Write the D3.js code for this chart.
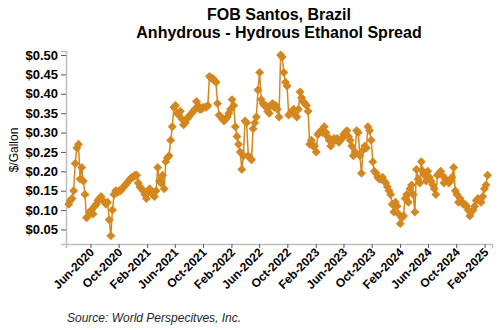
<!DOCTYPE html>
<html><head><meta charset="utf-8">
<script src="https://cdn.jsdelivr.net/npm/d3@7"></script>
<style>body{margin:0;background:#fff}</style>
</head><body><svg id="c" width="500" height="330"></svg>
<script>
// Weekly observations starting from this date
const startDate = "2020-02-28";
const spread = [
0.115,0.125,0.13,0.15,0.22,0.26,0.27,0.18,0.21,0.175,
0.14,0.08,0.085,0.095,0.10,0.09,0.11,0.115,0.125,0.13,
0.135,0.125,0.12,0.115,0.12,0.075,0.034,0.10,0.14,0.15,
0.145,0.15,0.15,0.155,0.16,0.165,0.17,0.175,0.18,0.185,
0.185,0.19,0.19,0.17,0.16,0.155,0.15,0.14,0.13,0.145,
0.155,0.145,0.14,0.135,0.15,0.21,0.175,0.17,0.19,0.155,
0.225,0.235,0.24,0.28,0.315,0.365,0.37,0.35,0.345,0.355,
0.335,0.32,0.325,0.335,0.34,0.345,0.35,0.355,0.36,0.38,
0.37,0.36,0.36,0.365,0.365,0.365,0.37,0.445,0.44,0.44,
0.435,0.43,0.375,0.345,0.34,0.335,0.33,0.335,0.34,0.35,
0.36,0.385,0.37,0.315,0.29,0.27,0.25,0.205,0.24,0.33,
0.325,0.24,0.235,0.23,0.31,0.325,0.34,0.41,0.455,0.385,
0.375,0.37,0.37,0.355,0.35,0.37,0.375,0.365,0.37,0.36,
0.34,0.50,0.495,0.455,0.43,0.42,0.345,0.35,0.355,0.36,
0.345,0.34,0.36,0.405,0.39,0.38,0.375,0.37,0.355,0.27,
0.28,0.265,0.265,0.25,0.295,0.30,0.305,0.30,0.315,0.30,
0.29,0.28,0.265,0.275,0.285,0.28,0.285,0.275,0.28,0.285,
0.295,0.30,0.305,0.29,0.28,0.265,0.24,0.25,0.305,0.30,
0.24,0.195,0.255,0.265,0.26,0.315,0.305,0.28,0.225,0.20,
0.195,0.185,0.18,0.18,0.185,0.175,0.17,0.16,0.15,0.14,
0.115,0.095,0.12,0.11,0.09,0.065,0.08,0.085,0.13,0.14,
0.12,0.155,0.165,0.14,0.095,0.205,0.18,0.17,0.225,0.20,
0.19,0.175,0.20,0.185,0.175,0.165,0.155,0.14,0.19,0.195,
0.20,0.19,0.17,0.18,0.175,0.17,0.175,0.185,0.21,0.15,
0.14,0.12,0.13,0.12,0.115,0.115,0.11,0.10,0.085,0.095,
0.10,0.11,0.125,0.13,0.125,0.12,0.135,0.155,0.165,0.19
];
const yTicks = [0.05,0.10,0.15,0.20,0.25,0.30,0.35,0.40,0.45,0.50];
const xTickLabels = ["Jun-2020","Oct-2020","Feb-2021","Jun-2021","Oct-2021","Feb-2022","Jun-2022","Oct-2022","Feb-2023","Jun-2023","Oct-2023","Feb-2024","Jun-2024","Oct-2024","Feb-2025"];
const titleLines = ["FOB Santos, Brazil","Anhydrous - Hydrous Ethanol Spread"];
const yTitle = "$/Gallon";
const sourceText = "Source: World Perspecitves, Inc.";

const color = "#D4871E";
const svg = d3.select("#c");
const font = "'Liberation Sans', Arial, sans-serif";

const parseISO = d3.timeParse("%Y-%m-%d");
const parseTick = d3.timeParse("%b-%Y");
const t0 = parseISO(startDate);
const data = spread.map((v,i)=>({date:d3.timeDay.offset(t0, 7*i), v}));

const pL = 66, pR = 492, pT = 51, pB = 244;
const x = d3.scaleTime().domain([parseISO("2020-02-16"), parseISO("2025-03-05")]).range([pL, pR]);
const y = d3.scaleLinear().domain([0.0125, 0.5104]).range([pB, pT]);

// axes
const yAxis = d3.axisLeft(y).tickValues(yTicks).tickSize(5).tickPadding(3).tickFormat(d3.format("$.2f"));
const gy = svg.append("g").attr("transform",`translate(${pL},0)`).call(yAxis);
gy.select(".domain").attr("stroke","#bfbfbf").attr("stroke-width",1.5);
gy.selectAll(".tick line").attr("stroke","#595959");
gy.selectAll("text").attr("font-family",font).attr("font-size",13).attr("font-weight","bold").attr("fill","#000");

const xAxis = d3.axisBottom(x).tickValues(xTickLabels.map(parseTick)).tickSize(4).tickFormat(d3.timeFormat("%b-%Y"));
const gx = svg.append("g").attr("transform",`translate(0,${pB})`).call(xAxis);
gx.select(".domain").attr("stroke","#bfbfbf").attr("stroke-width",1.5);
gx.selectAll(".tick line").attr("stroke","#595959");
gx.selectAll("text").attr("font-family",font).attr("font-size",12).attr("font-weight","bold").attr("fill","#000")
  .attr("text-anchor","end").attr("dy",null).attr("y",0)
  .attr("transform","translate(4,9) rotate(-45)");

// line + markers
svg.append("path").datum(data)
  .attr("fill","none").attr("stroke",color).attr("stroke-width",1.5)
  .attr("d", d3.line().x(d=>x(d.date)).y(d=>y(d.v)));
const sym = d3.symbol().type(d3.symbolSquare).size(40);
svg.append("g").selectAll("path").data(data).join("path")
  .attr("d", sym).attr("fill",color)
  .attr("transform", d=>`translate(${x(d.date)},${y(d.v)}) rotate(45)`);

// titles
svg.append("g").selectAll("text").data(titleLines).join("text")
  .attr("x",279).attr("y",(d,i)=>20+i*18).attr("text-anchor","middle")
  .attr("font-family",font).attr("font-size",16).attr("font-weight","bold").attr("fill","#000")
  .text(d=>d);
svg.append("text").attr("transform","translate(18,150) rotate(-90)").attr("text-anchor","middle")
  .attr("font-family",font).attr("font-size",12).attr("fill","#000").text(yTitle);
svg.append("text").attr("x",67).attr("y",322)
  .attr("font-family",font).attr("font-size",12).attr("font-style","italic").attr("fill","#262626").text(sourceText);
</script></body></html>
